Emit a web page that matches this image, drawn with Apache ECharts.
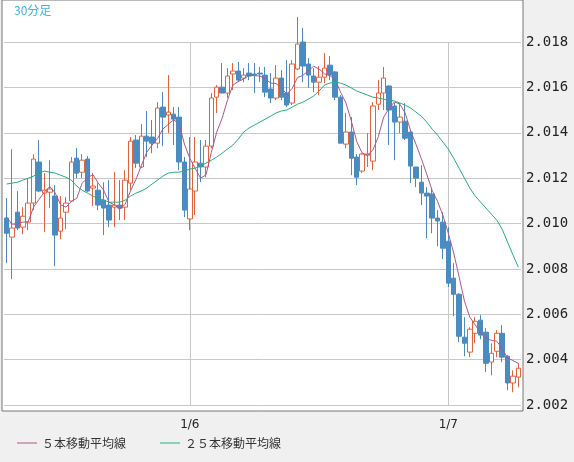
<!DOCTYPE html>
<html lang="ja">
<head>
    <meta charset="UTF-8">
    <title>30分足</title>
    <script src="https://cdn.jsdelivr.net/npm/echarts@6/dist/echarts.min.js"></script>
    <style>
        * { margin: 0; padding: 0 }
        html, body { width: 100%; height: 100%; background: #f0f0f0; }
        #main { width: 574px; height: 462px; }
    </style>
</head>
<body>
<div id="main"></div>
<script type="text/javascript">
    // [open, close, low, high]
    var candles = [
        [2.01024,2.00957,2.00825,2.01112],[2.0094,2.0098,2.00755,2.01328],[2.0105,2.0098,2.00971,2.01143],
        [2.00984,2.01032,2.00953,2.01072],[2.01006,2.0109,2.00971,2.012],[2.0109,2.01284,2.01059,2.01306],
        [2.01271,2.01143,2.01138,2.01368],[2.01134,2.01147,2.00962,2.01222],[2.01138,2.01152,2.01068,2.01279],
        [2.01121,2.00949,2.00812,2.01169],[2.00966,2.01024,2.00931,2.01121],[2.0105,2.0109,2.00975,2.01116],
        [2.01099,2.01271,2.01094,2.01293],[2.01288,2.01222,2.012,2.01332],[2.01226,2.01279,2.012,2.01306],
        [2.01284,2.01143,2.01138,2.01297],[2.01156,2.01165,2.01077,2.01222],[2.01147,2.01081,2.01059,2.01178],
        [2.01103,2.01068,2.00949,2.01182],[2.01081,2.01015,2.00984,2.01191],[2.01072,2.01081,2.00984,2.01226],
        [2.01081,2.01068,2.01015,2.01191],[2.01072,2.01191,2.01015,2.01235],[2.01178,2.01363,2.01147,2.01381],
        [2.01368,2.01266,2.01244,2.0139],[2.01249,2.01385,2.01244,2.01438],[2.01385,2.01363,2.01293,2.01496],
        [2.01381,2.01354,2.0131,2.01456],[2.01354,2.01509,2.01332,2.01535],[2.01513,2.01469,2.01341,2.01579],
        [2.01478,2.01491,2.01398,2.01654],[2.01482,2.0146,2.01346,2.01513],[2.01469,2.01271,2.01235,2.01513],
        [2.01271,2.01059,2.01028,2.01293],[2.0102,2.01152,2.00971,2.01381],[2.01143,2.01271,2.01037,2.01381],
        [2.01266,2.01249,2.01182,2.01368],[2.01249,2.01341,2.01204,2.01368],[2.01341,2.01553,2.01332,2.01575],
        [2.01557,2.01601,2.01487,2.0161],[2.01601,2.01575,2.01575,2.01707],[2.01575,2.0165,2.01553,2.01685],
        [2.01659,2.01672,2.01588,2.01707],[2.01672,2.01632,2.01623,2.01712],[2.01641,2.01654,2.01623,2.01685],
        [2.01663,2.0165,2.01632,2.01707],[2.01659,2.01654,2.01575,2.01707],[2.01663,2.01659,2.01623,2.0169],
        [2.01654,2.01579,2.01557,2.0169],[2.01593,2.01553,2.01531,2.01663],[2.01553,2.01641,2.01544,2.01698],
        [2.01641,2.01557,2.01544,2.01676],[2.01575,2.01522,2.01513,2.0172],[2.01531,2.01703,2.01522,2.0172],
        [2.01681,2.01791,2.01676,2.0191],[2.018,2.01694,2.01623,2.01862],[2.01703,2.01654,2.01597,2.01729],
        [2.0165,2.01623,2.01579,2.01685],[2.01623,2.01645,2.01566,2.01694],[2.01645,2.01685,2.01619,2.01751],
        [2.01698,2.01654,2.01632,2.01738],[2.01668,2.01557,2.01544,2.01672],[2.01557,2.01354,2.01354,2.01566],
        [2.0135,2.01403,2.01332,2.01487],[2.01403,2.01288,2.01213,2.01469],[2.01293,2.01204,2.01169,2.01306],
        [2.01231,2.01306,2.01222,2.0131],[2.01301,2.01306,2.01249,2.01398],[2.01275,2.01518,2.01235,2.01535],
        [2.01526,2.01575,2.015,2.01632],[2.01575,2.01641,2.015,2.0169],[2.01606,2.015,2.01346,2.0161],
        [2.01518,2.01447,2.01279,2.01531],[2.01447,2.01469,2.01398,2.01531],[2.01451,2.01376,2.01368,2.01531],
        [2.01403,2.01253,2.01178,2.01412],[2.01249,2.012,2.0116,2.01249],[2.01182,2.01134,2.01081,2.01257],
        [2.01134,2.01121,2.00935,2.0116],[2.0113,2.01024,2.00957,2.01152],[2.01024,2.01011,2.009,2.01059],
        [2.01006,2.00891,2.00843,2.0105],[2.00922,2.00737,2.0072,2.00984],[2.00759,2.00688,2.00591,2.00825],
        [2.00688,2.00503,2.00477,2.00693],[2.00499,2.00472,2.00415,2.00587],[2.00433,2.00534,2.00411,2.00543],
        [2.00516,2.00569,2.00472,2.00587],[2.00574,2.00508,2.0049,2.00596],[2.00521,2.00384,2.00345,2.00539],
        [2.00389,2.00428,2.00331,2.00472],[2.00437,2.00516,2.00411,2.0053],[2.00516,2.00411,2.00389,2.00552],
        [2.00415,2.00297,2.00265,2.0042],[2.00297,2.00327,2.00256,2.00353],[2.00323,2.00362,2.00278,2.00384]
    ];
    // first MA5 points (window starts before the chart)
    var ma5Lead = [2.01028, 2.00997, 2.00997, 2.01006];
    var ma25 = [
        2.01174,2.01178,2.01182,2.01191,2.012,2.01209,2.01222,2.01231,2.01226,2.01222,
        2.01213,2.01204,2.01191,2.01165,2.01147,2.01134,2.01121,2.01112,2.01103,2.01094,
        2.01094,2.01094,2.01103,2.01121,2.01134,2.01143,2.01156,2.01174,2.01191,2.01209,
        2.01222,2.01226,2.01226,2.01231,2.0124,2.01244,2.01253,2.01266,2.01279,2.01293,
        2.0131,2.01328,2.01346,2.01372,2.01403,2.01421,2.01434,2.01447,2.0146,2.01473,
        2.01487,2.01496,2.015,2.01513,2.01526,2.01535,2.01548,2.01562,2.01584,2.0161,
        2.01619,2.01623,2.01619,2.0161,2.01597,2.01584,2.01575,2.01566,2.01557,2.01553,
        2.01548,2.01544,2.0154,2.01531,2.01522,2.01509,2.01491,2.01473,2.01447,2.01416,
        2.0139,2.01359,2.01328,2.01288,2.01244,2.012,2.01156,2.01121,2.01094,2.01068,
        2.01041,2.01015,2.00975,2.00918,2.00862,2.00808
    ];
    var firstTime = {month: 1, day: 5, hour: 7, min: 0};
    var yTicks = {min: 2.002, max: 2.018, step: 0.002};

    var times = [];
    var t = new Date(2000, firstTime.month - 1, firstTime.day, firstTime.hour, firstTime.min);
    for (var i = 0; i < candles.length; i++) {
        times.push((t.getMonth() + 1) + '/' + t.getDate() + ' ' + ('0' + t.getHours()).slice(-2) + ':' + ('0' + t.getMinutes()).slice(-2));
        t = new Date(t.getTime() + 30 * 60000);
    }
    var ma5 = candles.map(function (c, i) {
        if (i < 4) return ma5Lead[i];
        var s = 0;
        for (var k = i - 4; k <= i; k++) s += candles[k][1];
        return +(s / 5).toFixed(5);
    });
    var dayStarts = [];
    times.forEach(function (s, i) { if (s.slice(-5) === '00:00') dayStarts.push(i); });

    var chart = echarts.init(document.getElementById('main'));
    chart.setOption({
        backgroundColor: '#f0f0f0',
        animation: false,
        graphic: [
            {type: 'rect', z: -10, shape: {x: 2, y: 0, width: 521, height: 411},
             style: {fill: '#fff', stroke: '#777', lineWidth: 1}},
            {type: 'text', left: 14, top: 4, z: 10,
             style: {text: '30分足', fill: '#3db4e8', font: '12px "Noto Sans CJK JP"'}}
        ],
        legend: {
            left: 12, bottom: 8, itemWidth: 20, itemHeight: 1, itemGap: 34, icon: 'rect',
            textStyle: {color: '#333', fontSize: 12, fontFamily: 'Noto Sans CJK JP'},
            data: ['５本移動平均線', '２５本移動平均線']
        },
        grid: {left: 4, right: 53, top: 42, height: 363},
        xAxis: {
            type: 'category', data: times, boundaryGap: true,
            axisLine: {show: false}, axisTick: {show: false}, splitLine: {show: false},
            axisLabel: {
                margin: 14, color: '#222', fontSize: 12, fontFamily: 'DejaVu Sans',
                interval: function (idx) { return dayStarts.indexOf(idx) >= 0; },
                formatter: function (v) { return v.split(' ')[0]; }
            }
        },
        yAxis: {
            type: 'value', position: 'right', min: yTicks.min, max: yTicks.max, interval: yTicks.step,
            axisLine: {show: false}, axisTick: {show: false},
            splitLine: {lineStyle: {color: '#c8c8c8', width: 1}},
            axisLabel: {margin: 5, color: '#222', fontSize: 14, fontFamily: 'DejaVu Sans Mono',
                formatter: function (v) { return v.toFixed(3); }}
        },
        series: [
            {
                type: 'candlestick', data: candles, barWidth: 5, clip: false, z: 3,
                itemStyle: {color: '#fff', color0: '#4a8bc2', borderColor: '#e0633a', borderColor0: '#4a8bc2', borderWidth: 1},
                markLine: {
                    silent: true, symbol: 'none', label: {show: false}, z: 1,
                    lineStyle: {color: '#c8c8c8', type: 'solid', width: 1},
                    data: dayStarts.map(function (d) { return {xAxis: d}; })
                }
            },
            {name: '５本移動平均線', type: 'line', data: ma5, showSymbol: false, clip: false, z: 4,
             lineStyle: {color: '#b0578a', width: 1}, itemStyle: {color: '#b0578a'}},
            {name: '２５本移動平均線', type: 'line', data: ma25, showSymbol: false, clip: false, z: 4,
             lineStyle: {color: '#25b07a', width: 1}, itemStyle: {color: '#25b07a'}}
        ]
    });
</script>
</body>
</html>
